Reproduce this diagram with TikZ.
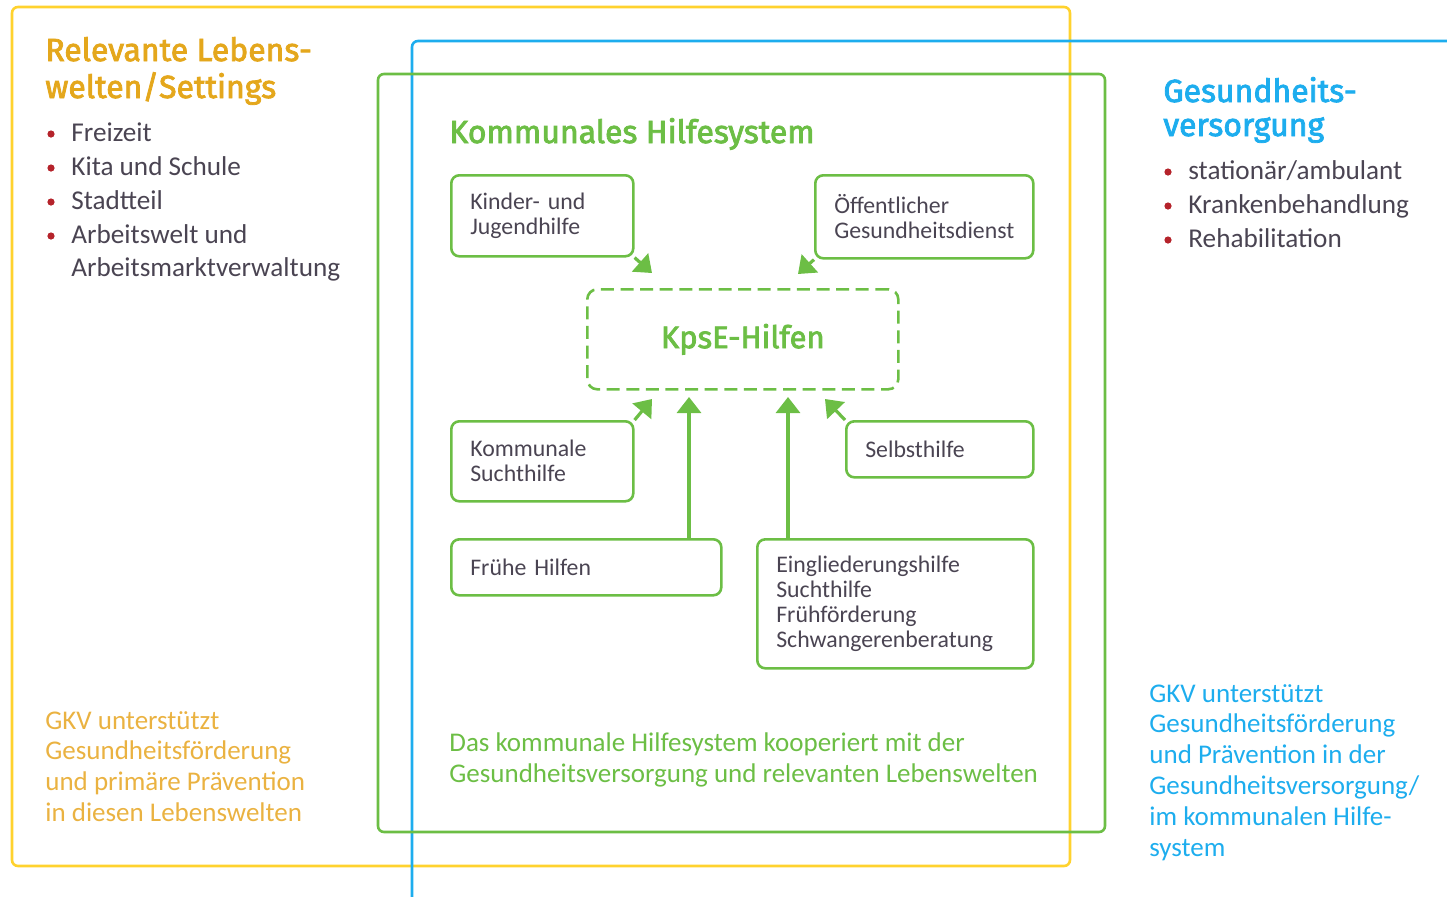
\documentclass[tikz,border=0pt]{standalone}
\usepackage{fontspec}
\setmainfont{Carlito}
\newfontfamily\headfont{Fira Sans}[FakeBold=2.5]
\newfontfamily\boxfont{Carlito}[WordSpace=0.8]
\usetikzlibrary{arrows.meta}

\definecolor{kyellow}{HTML}{FFD22E}
\definecolor{kgold}{HTML}{E4A71C}
\definecolor{kgoldlight}{HTML}{EAB241}
\definecolor{kblue}{HTML}{1DADEE}
\definecolor{kgreen}{HTML}{6CBE45}
\definecolor{ktext}{HTML}{4A4452}
\definecolor{kred}{HTML}{B5232B}

\tikzset{
  frame/.style={line width=1.3pt, rounded corners=3pt},
  head/.style={font=\headfont\fontsize{16}{18.5}\selectfont, inner sep=0pt, align=left},
  item/.style={font=\fontsize{13.6}{17}\selectfont, text=ktext, inner sep=0pt},
  note/.style={font=\fontsize{13.5}{15.3}\selectfont, inner sep=0pt, align=left},
  hbox/.style={draw=kgreen, line width=1.3pt, rounded corners=4pt, anchor=north west,
    font=\boxfont\fontsize{11.9}{12.5}\selectfont, text=ktext, align=left,
    inner xsep=9.5pt, inner ysep=0pt},
  hilfe/.style={draw=kgreen, line width=1.6pt, -{Triangle[length=8pt,width=12pt]}, kgreen},
}

\begin{document}
\begin{tikzpicture}[x=0.5pt,y=-0.5pt]
\useasboundingbox (0,0) rectangle (1447,896);

% frames
\draw[frame, draw=kyellow] (12,7) rectangle (1070,866);
\draw[frame, draw=kblue] (412,900) -- (412,41) -- (1452,41);
\draw[frame, draw=kgreen] (378,74) rectangle (1105,832);

% relevante Lebenswelten
\node[head, text=kgold, anchor=base west] (lwhead) at (45,98) {Relevante Lebens-\\welten/Settings};
\foreach \txt [count=\i] in {Freizeit,Kita und Schule,Stadtteil,Arbeitswelt und}
{
  \node[item, anchor=base west] (lw\i) at (71,{141+34*(\i-1)}) {\txt};
  \fill[kred] (51,{134+34*(\i-1)}) circle (1.8pt);
}
\node[item, anchor=base west] (lw5) at (71,276) {Arbeitsmarktverwaltung};
\node[note, text=kgoldlight, anchor=base west] (lwnote) at (45,821)
  {GKV unterstützt\\Gesundheitsförderung\\und primäre Prävention\\in diesen Lebenswelten};

% Gesundheitsversorgung
\node[head, text=kblue, anchor=base west, font=\headfont\fontsize{16}{17}\selectfont] (gvhead) at (1163,136) {Gesundheits-\\versorgung};
\foreach \txt [count=\i] in {stationär/ambulant,Krankenbehandlung,Rehabilitation}
{
  \node[item, anchor=base west] (gv\i) at (1188,{179+34*(\i-1)}) {\txt};
  \fill[kred] (1168,{172+34*(\i-1)}) circle (1.8pt);
}
\node[note, text=kblue, anchor=base west, font=\fontsize{13.5}{15.4}\selectfont] (gvnote) at (1149,856)
  {GKV unterstützt\\Gesundheitsförderung\\und Prävention in der\\Gesundheitsversorgung/\\im kommunalen Hilfe-\\system};

% kommunales Hilfesystem
\node[head, text=kgreen, anchor=base west] (khhead) at (449,143) {Kommunales Hilfesystem};
\node[note, text=kgreen, anchor=base west] (khnote) at (449,782)
  {Das kommunale Hilfesystem kooperiert mit der\\Gesundheitsversorgung und relevanten Lebenswelten};

\node[draw=kgreen, line width=1.3pt, dashed, dash pattern=on 6.5pt off 3.3pt, rounded corners=5pt,
  anchor=north west, minimum width=155.5pt, minimum height=50pt,
  font=\headfont\fontsize{15.5}{17}\selectfont, text=kgreen] (kpse) at (586,288) {KpsE-Hilfen};

\node[hbox, minimum width=91pt, minimum height=40.5pt, text width=72pt] (kjh) at (450,174) {Kinder- und\\Jugendhilfe};
\node[hbox, minimum width=109pt, minimum height=41.5pt, text width=90pt] (oegd) at (814,174) {Öffentlicher\\Gesundheitsdienst};
\node[hbox, minimum width=91pt, minimum height=40pt, text width=72pt] (ksh) at (450,420) {Kommunale\\Suchthilfe};
\node[hbox, minimum width=93.5pt, minimum height=28pt, text width=74.5pt] (sh) at (845,420) {Selbsthilfe};
\node[hbox, minimum width=135pt, minimum height=28pt, text width=116pt] (fh) at (450,538) {Frühe Hilfen};
\node[hbox, minimum width=138pt, minimum height=64.5pt, text width=119pt] (egh) at (756,538)
  {Eingliederungshilfe\\Suchthilfe\\Frühförderung\\Schwangerenberatung};

% arrows to KpsE
\coordinate (kjhtip) at (652,273);
\coordinate (oegdtip) at (798,274);
\coordinate (kshtip) at (652,399);
\coordinate (fhtip) at (689,397);
\coordinate (eghtip) at (788,397);
\coordinate (shtip) at (825,399);
\draw[hilfe] (kjh.south east) -- (kjhtip);
\draw[hilfe] (oegd.south west) -- (oegdtip);
\draw[hilfe] (ksh.north east) -- (kshtip);
\draw[hilfe] (fh.north -| fhtip) -- (fhtip);
\draw[hilfe] (egh.north -| eghtip) -- (eghtip);
\draw[hilfe] (sh.north west) -- (shtip);
\end{tikzpicture}
\end{document}
